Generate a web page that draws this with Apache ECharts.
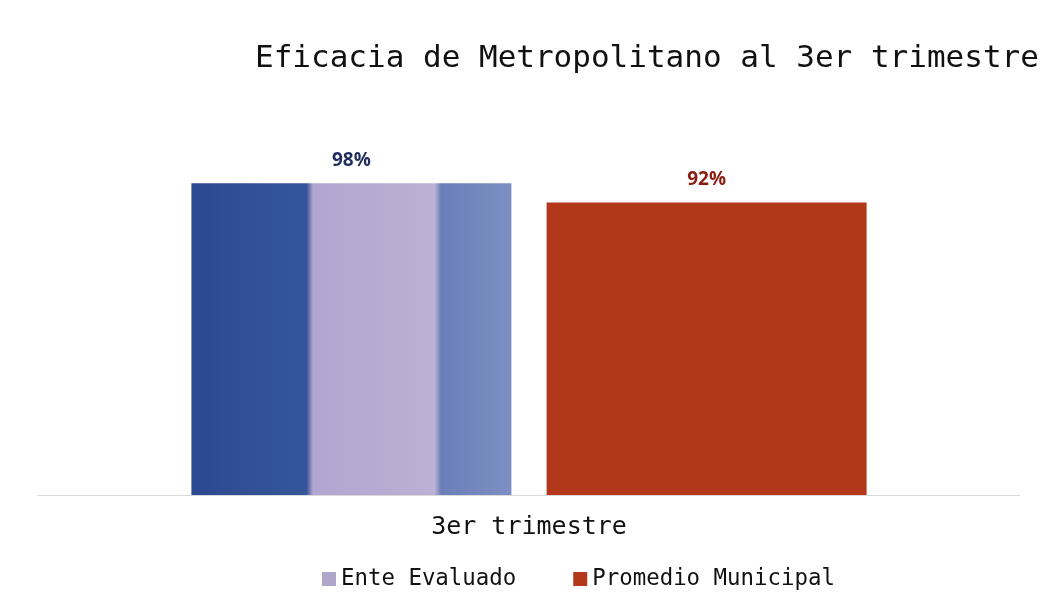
<!DOCTYPE html>
<html>
<head>
<meta charset="utf-8">
<script src="https://cdn.jsdelivr.net/npm/echarts@6/dist/echarts.min.js"></script>
<style>
  html, body { margin: 0; padding: 0; background: #fff; }
  #chart { width: 1048px; height: 599px; }
</style>
</head>
<body>
<div id="chart"></div>
<script>
// datos
var categories = ["3er trimestre"];
var seriesNames = ["Ente Evaluado", "Promedio Municipal"];
var enteEvaluado = [98];
var promedioMunicipal = [92];

var mono = "DejaVu Sans Mono";

var chartDom = document.getElementById("chart");
var myChart = echarts.init(chartDom);

// relleno a cuadros de la primera barra (aprox.)
var plaid = new echarts.graphic.LinearGradient(0, 0, 1, 0, [
  { offset: 0, color: "#2b4990" },
  { offset: 0.36, color: "#36569b" },
  { offset: 0.38, color: "#b2a5cf" },
  { offset: 0.76, color: "#bdb0d6" },
  { offset: 0.78, color: "#6a7fb9" },
  { offset: 1, color: "#7d8fc3" }
]);

var option = {
  backgroundColor: "#fff",
  animation: false,
  title: {
    text: "Eficacia de Metropolitano al 3er trimestre",
    left: 250,
    top: 38,
    textStyle: {
      fontFamily: mono,
      fontSize: 31,
      fontWeight: "normal",
      color: "#111"
    }
  },
  legend: {
    left: 317,
    top: 563,
    itemWidth: 14,
    itemHeight: 14,
    itemGap: 57,
    icon: "rect",
    data: [
      { name: seriesNames[0], itemStyle: { color: "#aea6cb" } },
      { name: seriesNames[1], itemStyle: { color: "#b2371b" } }
    ],
    textStyle: { fontFamily: mono, fontSize: 22.4, color: "#111" }
  },
  grid: {
    left: 38,
    right: 28,
    top: 177,
    bottom: 104,
    containLabel: false
  },
  xAxis: {
    type: "category",
    data: categories,
    axisTick: { show: false },
    axisLine: { lineStyle: { color: "#d9d9d9", width: 1 } },
    axisLabel: {
      fontFamily: mono,
      fontSize: 25,
      color: "#111",
      margin: 20
    }
  },
  yAxis: {
    type: "value",
    min: 0,
    max: 100,
    show: false,
    splitLine: { show: false }
  },
  series: [
    {
      name: seriesNames[0],
      type: "bar",
      data: enteEvaluado,
      barWidth: 320,
      barGap: "11%",
      itemStyle: { color: plaid },
      label: {
        show: true,
        position: "top",
        distance: 13,
        formatter: "{c}%",
        fontFamily: "Open Sans",
        fontWeight: "bold",
        fontSize: 19,
        color: "#1f2d5c"
      }
    },
    {
      name: seriesNames[1],
      type: "bar",
      data: promedioMunicipal,
      barWidth: 320,
      itemStyle: { color: "#b2371b" },
      label: {
        show: true,
        position: "top",
        distance: 13,
        formatter: "{c}%",
        fontFamily: "Open Sans",
        fontWeight: "bold",
        fontSize: 19,
        color: "#8a1f10"
      }
    }
  ]
};

option && myChart.setOption(option);
</script>
</body>
</html>
